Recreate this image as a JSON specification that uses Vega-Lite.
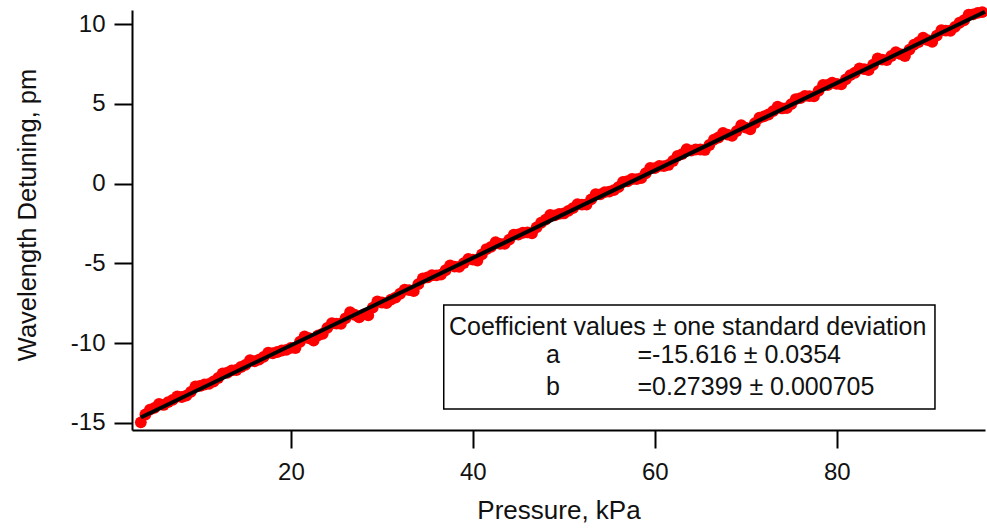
{
  "$schema": "https://vega.github.io/schema/vega-lite/v6.json",
  "autosize": "none",
  "width": 853,
  "height": 420,
  "padding": {"left": 132, "top": 10, "right": 2, "bottom": 101},
  "background": "white",
  "config": {
    "view": {"stroke": null},
    "font": "Liberation Sans",
    "axis": {"grid": false, "domainColor": "#000", "domainWidth": 2, "tickColor": "#000", "tickWidth": 2, "tickSize": 18, "labelColor": "#111", "titleColor": "#111", "labelFont": "Liberation Sans", "titleFont": "Liberation Sans", "labelFontSize": 24, "titleFontSize": 25.5, "titleFontWeight": "normal"}
  },
  "datasets": {
    "pts": [
      {"P": 3.5, "D": -14.96}, {"P": 4.5, "D": -14.16}, {"P": 5.5, "D": -13.81}, {"P": 6.5, "D": -13.69},
      {"P": 7.5, "D": -13.34}, {"P": 8.5, "D": -13.29}, {"P": 9.5, "D": -12.71}, {"P": 10.5, "D": -12.59},
      {"P": 11.5, "D": -12.4}, {"P": 12.5, "D": -11.89}, {"P": 13.5, "D": -11.7}, {"P": 14.5, "D": -11.49},
      {"P": 15.5, "D": -11.07}, {"P": 16.5, "D": -11.03}, {"P": 17.5, "D": -10.6}, {"P": 18.5, "D": -10.55},
      {"P": 19.5, "D": -10.42}, {"P": 20.5, "D": -10.3}, {"P": 21.5, "D": -9.58}, {"P": 22.5, "D": -9.83},
      {"P": 23.5, "D": -9.41}, {"P": 24.5, "D": -8.75}, {"P": 25.5, "D": -8.78}, {"P": 26.5, "D": -8.06},
      {"P": 27.5, "D": -8.38}, {"P": 28.5, "D": -8.26}, {"P": 29.5, "D": -7.38}, {"P": 30.5, "D": -7.49},
      {"P": 31.5, "D": -7.14}, {"P": 32.5, "D": -6.64}, {"P": 33.5, "D": -6.74}, {"P": 34.5, "D": -5.94},
      {"P": 35.5, "D": -5.74}, {"P": 36.5, "D": -5.7}, {"P": 37.5, "D": -5.12}, {"P": 38.5, "D": -5.22},
      {"P": 39.5, "D": -4.72}, {"P": 40.5, "D": -4.82}, {"P": 41.5, "D": -4.1}, {"P": 42.5, "D": -3.67},
      {"P": 43.5, "D": -3.78}, {"P": 44.5, "D": -3.2}, {"P": 45.5, "D": -3.08}, {"P": 46.5, "D": -3.11},
      {"P": 47.5, "D": -2.45}, {"P": 48.5, "D": -1.96}, {"P": 49.5, "D": -1.9}, {"P": 50.5, "D": -1.71},
      {"P": 51.5, "D": -1.29}, {"P": 52.5, "D": -1.31}, {"P": 53.5, "D": -0.66}, {"P": 54.5, "D": -0.53},
      {"P": 55.5, "D": -0.41}, {"P": 56.5, "D": 0.1}, {"P": 57.5, "D": 0.29}, {"P": 58.5, "D": 0.34},
      {"P": 59.5, "D": 0.99}, {"P": 60.5, "D": 1.11}, {"P": 61.5, "D": 1.17}, {"P": 62.5, "D": 1.74},
      {"P": 63.5, "D": 2.16}, {"P": 64.5, "D": 2.14}, {"P": 65.5, "D": 2.11}, {"P": 66.5, "D": 2.76},
      {"P": 67.5, "D": 3.18}, {"P": 68.5, "D": 3.0}, {"P": 69.5, "D": 3.66}, {"P": 70.5, "D": 3.4},
      {"P": 71.5, "D": 4.13}, {"P": 72.5, "D": 4.33}, {"P": 73.5, "D": 4.82}, {"P": 74.5, "D": 4.73},
      {"P": 75.5, "D": 5.3}, {"P": 76.5, "D": 5.5}, {"P": 77.5, "D": 5.47}, {"P": 78.5, "D": 6.19},
      {"P": 79.5, "D": 6.32}, {"P": 80.5, "D": 6.22}, {"P": 81.5, "D": 6.8}, {"P": 82.5, "D": 7.22},
      {"P": 83.5, "D": 7.11}, {"P": 84.5, "D": 7.84}, {"P": 85.5, "D": 7.74}, {"P": 86.5, "D": 8.24},
      {"P": 87.5, "D": 7.99}, {"P": 88.5, "D": 8.71}, {"P": 89.5, "D": 9.14}, {"P": 90.5, "D": 8.88},
      {"P": 91.5, "D": 9.61}, {"P": 92.5, "D": 9.58}, {"P": 93.5, "D": 10.08}, {"P": 94.5, "D": 10.58},
      {"P": 95.5, "D": 10.7}, {"P": 96.0, "D": 10.75},
      {"P": 4, "D": -14.47}, {"P": 5, "D": -14.05}, {"P": 6, "D": -13.87}, {"P": 7, "D": -13.55},
      {"P": 8, "D": -13.37}, {"P": 9, "D": -13.05}, {"P": 10, "D": -12.68}, {"P": 11, "D": -12.55},
      {"P": 12, "D": -12.18}, {"P": 13, "D": -11.85}, {"P": 14, "D": -11.68}, {"P": 15, "D": -11.36},
      {"P": 16, "D": -11.13}, {"P": 17, "D": -10.86}, {"P": 18, "D": -10.63}, {"P": 19, "D": -10.46},
      {"P": 20, "D": -10.29}, {"P": 21, "D": -9.91}, {"P": 22, "D": -9.69}, {"P": 23, "D": -9.51},
      {"P": 24, "D": -9.04}, {"P": 25, "D": -8.77}, {"P": 26, "D": -8.44}, {"P": 27, "D": -8.22},
      {"P": 28, "D": -8.19}, {"P": 29, "D": -7.77}, {"P": 30, "D": -7.45}, {"P": 31, "D": -7.27},
      {"P": 32, "D": -6.9}, {"P": 33, "D": -6.67}, {"P": 34, "D": -6.3}, {"P": 35, "D": -5.88},
      {"P": 36, "D": -5.75}, {"P": 37, "D": -5.43}, {"P": 38, "D": -5.2}, {"P": 39, "D": -4.98},
      {"P": 40, "D": -4.76}, {"P": 41, "D": -4.43}, {"P": 42, "D": -3.96}, {"P": 43, "D": -3.78},
      {"P": 44, "D": -3.51}, {"P": 45, "D": -3.19}, {"P": 46, "D": -3.06}, {"P": 47, "D": -2.74},
      {"P": 48, "D": -2.26}, {"P": 49, "D": -1.99}, {"P": 50, "D": -1.87}, {"P": 51, "D": -1.54},
      {"P": 52, "D": -1.32}, {"P": 53, "D": -0.99}, {"P": 54, "D": -0.67}, {"P": 55, "D": -0.5},
      {"P": 56, "D": -0.22}, {"P": 57, "D": 0.15}, {"P": 58, "D": 0.28}, {"P": 59, "D": 0.65},
      {"P": 60, "D": 0.97}, {"P": 61, "D": 1.1}, {"P": 62, "D": 1.42}, {"P": 63, "D": 1.85},
      {"P": 64, "D": 2.07}, {"P": 65, "D": 2.14}, {"P": 66, "D": 2.42}, {"P": 67, "D": 2.89},
      {"P": 68, "D": 3.07}, {"P": 69, "D": 3.29}, {"P": 70, "D": 3.51}, {"P": 71, "D": 3.79},
      {"P": 72, "D": 4.21}, {"P": 73, "D": 4.54}, {"P": 74, "D": 4.71}, {"P": 75, "D": 4.98},
      {"P": 76, "D": 5.36}, {"P": 77, "D": 5.48}, {"P": 78, "D": 5.81}, {"P": 79, "D": 6.18},
      {"P": 80, "D": 6.25}, {"P": 81, "D": 6.53}, {"P": 82, "D": 6.95}, {"P": 83, "D": 7.18},
      {"P": 84, "D": 7.45}, {"P": 85, "D": 7.77}, {"P": 86, "D": 8.0}, {"P": 87, "D": 8.12},
      {"P": 88, "D": 8.4}, {"P": 89, "D": 8.87}, {"P": 90, "D": 8.99}, {"P": 91, "D": 9.27},
      {"P": 92, "D": 9.59}, {"P": 93, "D": 9.82}, {"P": 94, "D": 10.24}, {"P": 95, "D": 10.61}
    ],
    "fit": [
      {"P": 3.5, "D": -14.657}, {"P": 96.3, "D": 10.769}
    ],
    "box": [
      {"x1": 36.8, "x2": 90.8, "y1": -7.6, "y2": -14.12}
    ],
    "leftText": [
      {"x": 37.37, "y": -8.98, "t": "Coefficient values ± one standard deviation"},
      {"x": 58.1, "y": -10.74, "t": "=-15.616 ± 0.0354"},
      {"x": 58.1, "y": -12.74, "t": "=0.27399 ± 0.000705"}
    ],
    "centerText": [
      {"x": 48.8, "y": -10.74, "t": "a"},
      {"x": 48.8, "y": -12.74, "t": "b"}
    ]
  },
  "layer": [
    {
      "data": {"name": "pts"},
      "mark": {"type": "circle", "color": "#ff0000", "opacity": 1, "size": 140},
      "encoding": {
        "x": {"field": "P", "type": "quantitative", "scale": {"domain": [2.53, 96.3], "nice": false, "zero": false},
              "axis": {"title": "Pressure, kPa", "titleFontSize": 26, "values": [20, 40, 60, 80], "labelPadding": 12, "titlePadding": 13}},
        "y": {"field": "D", "type": "quantitative", "scale": {"domain": [-15.44, 10.88], "nice": false, "zero": false},
              "axis": {"title": "Wavelength Detuning, pm", "titleFontSize": 25.5, "values": [-15, -10, -5, 0, 5, 10], "labelExpr": "'' + datum.value", "labelPadding": 9, "titleX": -92, "titleY": 204.5, "titleBaseline": "bottom", "titleAngle": -90}}
      }
    },
    {
      "data": {"name": "fit"},
      "mark": {"type": "line", "color": "#000", "strokeWidth": 4},
      "encoding": {
        "x": {"field": "P", "type": "quantitative"},
        "y": {"field": "D", "type": "quantitative"}
      }
    },
    {
      "data": {"name": "box"},
      "mark": {"type": "rect", "fill": "white", "stroke": "#000", "strokeWidth": 1.5},
      "encoding": {
        "x": {"field": "x1", "type": "quantitative"},
        "x2": {"field": "x2"},
        "y": {"field": "y1", "type": "quantitative"},
        "y2": {"field": "y2"}
      }
    },
    {
      "data": {"name": "leftText"},
      "mark": {"type": "text", "fontSize": 25, "color": "#111", "baseline": "middle", "align": "left", "font": "Liberation Sans"},
      "encoding": {
        "x": {"field": "x", "type": "quantitative"},
        "y": {"field": "y", "type": "quantitative"},
        "text": {"field": "t"}
      }
    },
    {
      "data": {"name": "centerText"},
      "mark": {"type": "text", "fontSize": 25, "color": "#111", "baseline": "middle", "align": "center", "font": "Liberation Sans"},
      "encoding": {
        "x": {"field": "x", "type": "quantitative"},
        "y": {"field": "y", "type": "quantitative"},
        "text": {"field": "t"}
      }
    }
  ]
}
